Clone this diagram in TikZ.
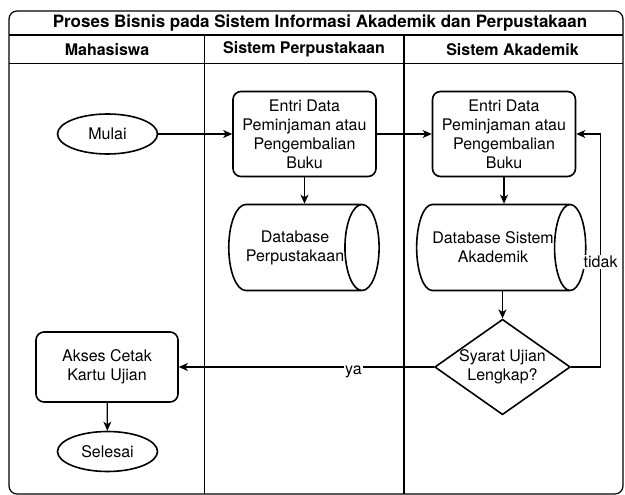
\documentclass[tikz,border=0pt]{standalone}
\usepackage{fontspec}
\setmainfont{TeX Gyre Heros}
\usetikzlibrary{arrows.meta}
\usetikzlibrary{shapes.geometric}
\tikzset{>={Stealth[length=9pt,width=8pt,inset=2.5pt]}}
\tikzset{proses/.style = {draw, line width=1.6pt, rounded corners=8pt,
                          align=center, fill=white, inner sep=0pt},
         terminal/.style = {draw, ellipse, line width=1.6pt, minimum width=100pt,
                            minimum height=40pt, inner sep=0pt},
         basisdata/.style = {draw, cylinder, line width=1.6pt, fill=white,
                             minimum width=86pt, minimum height=139pt,
                             aspect=1, align=center, inner sep=0pt},
         keputusan/.style = {draw, diamond, line width=1.6pt, aspect=1.42,
                             align=center, inner sep=0pt},
         alur/.style = {->, line width=1.2pt},
         ket/.style = {fill=white, inner sep=1pt}}

\begin{document}
\begin{tikzpicture}[x=1pt, y=-1pt, font=\fontsize{16}{19}\selectfont]
      \useasboundingbox (0, 0) rectangle (625, 495);
      % kerangka swimlane
      \draw [line width=1.2pt, rounded corners=8pt] (9, 11) rectangle (623, 494);
      \draw [line width=1.2pt] (9, 35) -- (623, 35);
      \draw [line width=1.2pt] (9, 63.5) -- (623, 63.5);
      \draw [line width=1.2pt] (204.5, 35) -- (204.5, 494);
      \draw [line width=1.2pt] (404, 35) -- (404, 494);
      \node [font=\fontsize{17}{20}\selectfont\bfseries] (judul) at (320, 23) {Proses Bisnis pada Sistem Informasi Akademik dan Perpustakaan};
      \node (mhs) at (107, 49.5) {\bfseries Mahasiswa};
      \node (perpus) at (304, 49.5) {\bfseries Sistem Perpustakaan};
      \node (akad) at (512.5, 49.5) {\bfseries Sistem Akademik};
      % simpul
      \node [terminal] (mulai) at (107.5, 134) {Mulai};
      \node [proses, minimum width=143pt, minimum height=85pt] (entriA) at (304.5, 134) {Entri Data\\Peminjaman atau\\Pengembalian\\Buku};
      \node [proses, minimum width=143pt, minimum height=85pt] (entriB) at (504, 134) {Entri Data\\Peminjaman atau\\Pengembalian\\Buku};
      \node [basisdata] (dbperpus) at (295, 247.5) {Database\\Perpustakaan};
      \node [basisdata] (dbakad) at (493, 247.5) {Database Sistem\\Akademik};
      \node [keputusan] (cek) at (502.5, 367) {Syarat Ujian\\Lengkap?};
      \node [proses, minimum width=142pt, minimum height=70pt] (akses) at (107, 367) {Akses Cetak\\Kartu Ujian};
      \node [terminal] (selesai) at (107.5, 451.5) {Selesai};
      % alur
      \draw [alur] (mulai) -- (entriA);
      \draw [alur] (entriA) -- (entriA |- dbperpus.north);
      \draw [alur] (entriB) -- (entriB |- dbakad.north);
      \draw [alur] (cek |- dbakad.south) -- (cek);
      \draw [alur] (entriA) -- (entriB);
      \draw [alur] (cek) -- (akses) node [ket, pos=0.315, yshift=-5pt] {ya};
      \draw [alur] (cek.east) -- ++(29.5, 0) |- (entriB.east) node [ket, pos=0.225] {tidak};
      \draw [alur] (akses) -- (selesai);
\end{tikzpicture}
\end{document}
